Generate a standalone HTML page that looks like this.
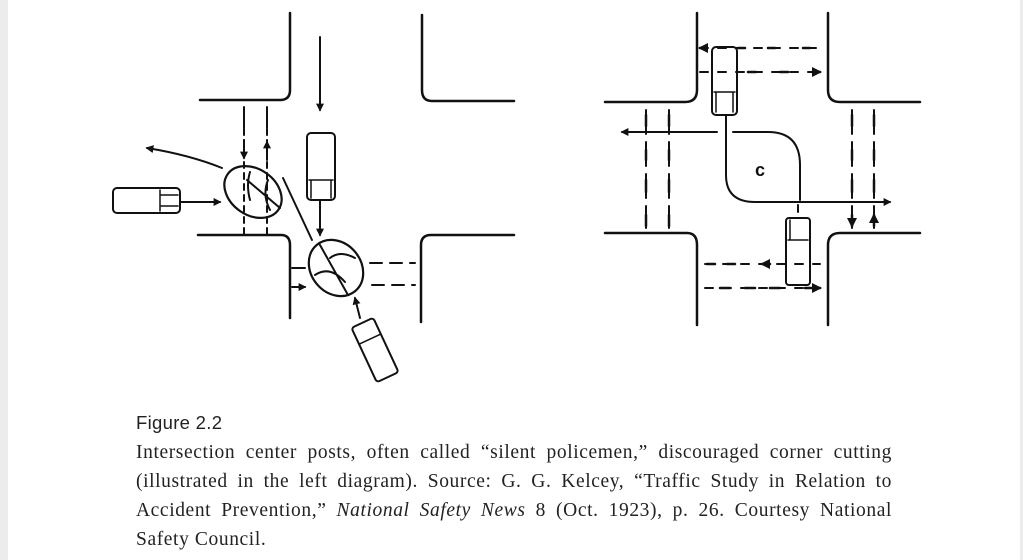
<!DOCTYPE html>
<html><head><meta charset="utf-8"><style>
html,body{margin:0;padding:0;background:#fff;}
body{width:1023px;height:560px;position:relative;overflow:hidden;}
.gl{position:absolute;left:0;top:0;width:8px;height:560px;background:#ececec;}
.gr{position:absolute;left:1020px;top:0;width:3px;height:560px;background:#ececec;}
svg{position:absolute;left:0;top:0;}
.cap{position:absolute;left:136px;top:410px;width:756px;font-family:"Liberation Serif",serif;font-size:19.5px;line-height:29px;color:#222;letter-spacing:0.6px;}
.cap b{font-family:"Liberation Sans",sans-serif;font-weight:normal;font-size:18.5px;display:block;line-height:26px;margin-bottom:2px;letter-spacing:0.3px;}
.l{display:block;text-align:justify;text-align-last:justify;white-space:nowrap;}
.l.last{text-align-last:left;}
</style></head><body>
<div class="gl"></div><div class="gr"></div>
<svg width="1023" height="400" viewBox="0 0 1023 400" fill="none" stroke="#111" stroke-width="2.5" stroke-linecap="round">
<defs><marker id="a" viewBox="0 0 10 10" refX="8" refY="5" markerWidth="4" markerHeight="4" orient="auto"><path d="M0,0L10,5L0,10z" fill="#111" stroke="none"/></marker></defs>
<path d="M290,13V90Q290,100 280,100H200"/>
<path d="M422,15V90Q422,101 432,101H514"/>
<path d="M198,235H281Q290,235 290,245V318"/>
<path d="M514,235H431Q421,235 421,245V322"/>
<path d="M320,37V110" marker-end="url(#a)" stroke-width="2"/>
<rect x="307" y="133" width="28" height="67" rx="4" stroke-width="2"/>
<path d="M309,180H333M311,180V198M331,180V198" stroke-width="1.5"/>
<path d="M320,200V235" marker-end="url(#a)" stroke-width="2"/>
<path d="M244,107V235M267,107V235" stroke-dasharray="6,5" stroke-width="2"/>
<path d="M244,112V128M244,140V158" marker-end="url(#a)" stroke-width="2"/>
<path d="M267,128V110M267,160V142" marker-end="url(#a)" stroke-width="2"/>
<ellipse cx="253" cy="192" rx="31" ry="23" transform="rotate(35 253 192)" stroke-width="2.2"/>
<path d="M247,180L280,208M250,172Q246,185 250,200M268,180Q262,195 270,210" stroke-width="2"/>
<path d="M283,178L312,240" stroke-width="2"/>
<ellipse cx="336" cy="268" rx="30" ry="25" transform="rotate(50 336 268)" stroke-width="2.2"/>
<path d="M320,245L348,295M330,258Q340,250 355,258M315,275Q330,265 345,282" stroke-width="2"/>
<rect x="113" y="188" width="67" height="25" rx="4" stroke-width="2"/>
<path d="M160,190V211M160,195H178M160,206H178" stroke-width="1.5"/>
<path d="M181,202H220" marker-end="url(#a)" stroke-width="2"/>
<path d="M222,168Q190,155 147,148" marker-end="url(#a)" stroke-width="2"/>
<g transform="rotate(-25 375 350)"><rect x="363" y="320" width="24" height="60" rx="3" stroke-width="2"/><path d="M363,338H387" stroke-width="1.5"/></g>
<path d="M360,318L355,298" marker-end="url(#a)" stroke-width="2"/>
<path d="M370,263H415M372,285H415" stroke-dasharray="12,8" stroke-width="2"/>
<path d="M305,268H292M292,287H305" marker-end="url(#a)" stroke-width="2"/>
<path d="M697,13V90Q697,102 685,102H605"/>
<path d="M828,13V90Q828,102 840,102H920"/>
<path d="M605,233H687Q697,233 697,245V325"/>
<path d="M920,233H840Q828,233 828,245V325"/>
<path d="M700,48H823M700,72H823M705,264H820M705,288H820" stroke-dasharray="8,10" stroke-width="2"/>
<path d="M745,48H738M775,48H768M810,48H803M706,48H700" marker-end="url(#a)" stroke-width="2.5"/>
<path d="M748,72H756M780,72H788M812,72H820" marker-end="url(#a)" stroke-width="2.5"/>
<path d="M715,264H707M735,264H727M770,264H762" marker-end="url(#a)" stroke-width="2.5"/>
<path d="M720,288H730M745,288H755M770,288H780M805,288H820" marker-end="url(#a)" stroke-width="2.5"/>
<path d="M646,110V228M669,110V228M852,110V228M874,110V228" stroke-dasharray="8,8" stroke-width="2"/>
<path d="M646,115V126M646,150V160M646,180V192M646,215V226M852,115V126M852,150V160M852,180V192M852,215V226" marker-end="url(#a)" stroke-width="2.5"/>
<path d="M669,126V115M669,160V150M669,192V180M669,226V215M874,126V115M874,160V150M874,192V180M874,226V215" marker-end="url(#a)" stroke-width="2.5"/>
<rect x="712" y="47" width="25" height="68" rx="4" stroke-width="2"/>
<path d="M714,92H735M716,92V112M733,92V112" stroke-width="1.5"/>
<rect x="786" y="218" width="24" height="67" rx="3" stroke-width="2"/>
<path d="M788,240H808M790,220V240" stroke-width="1.5"/>
<path d="M726,115V175Q726,202 755,202H890" marker-end="url(#a)" stroke-width="2"/>
<path d="M717,132H622" marker-end="url(#a)" stroke-width="2"/>
<path d="M733,132H768Q800,132 800,165V200" stroke-width="2"/>
<path d="M798,212V205" stroke-width="2"/>
<text x="755" y="176" font-family="Liberation Sans,sans-serif" font-size="18" font-weight="bold" fill="#111" stroke="none">c</text>
</svg>
<div class="cap"><b>Figure 2.2</b><span class="l">Intersection center posts, often called “silent policemen,” discouraged corner cutting</span><span class="l">(illustrated in the left diagram). Source: G. G. Kelcey, “Traffic Study in Relation to</span><span class="l">Accident Prevention,” <i>National Safety News</i> 8 (Oct. 1923), p. 26. Courtesy National</span><span class="l last">Safety Council.</span></div>
</body></html>
